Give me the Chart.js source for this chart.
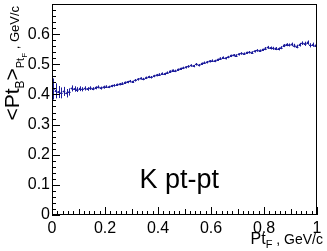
<!DOCTYPE html>
<html>
<head>
<meta charset="utf-8">
<script src="https://cdn.jsdelivr.net/npm/chart.js@4/dist/chart.umd.min.js"></script>
<style>
html, body { margin: 0; padding: 0; background: #fff; }
</style>
</head>
<body>
<canvas id="myChart" width="327" height="251"></canvas>
<script>
// bin centres of Pt_F (100 bins, 0..1)
var ptF = [0.005, 0.015, 0.025, 0.035, 0.045, 0.055, 0.065, 0.075, 0.085, 0.095,
  0.105, 0.115, 0.125, 0.135, 0.145, 0.155, 0.165, 0.175, 0.185, 0.195,
  0.205, 0.215, 0.225, 0.235, 0.245, 0.255, 0.265, 0.275, 0.285, 0.295,
  0.305, 0.315, 0.325, 0.335, 0.345, 0.355, 0.365, 0.375, 0.385, 0.395,
  0.405, 0.415, 0.425, 0.435, 0.445, 0.455, 0.465, 0.475, 0.485, 0.495,
  0.505, 0.515, 0.525, 0.535, 0.545, 0.555, 0.565, 0.575, 0.585, 0.595,
  0.605, 0.615, 0.625, 0.635, 0.645, 0.655, 0.665, 0.675, 0.685, 0.695,
  0.705, 0.715, 0.725, 0.735, 0.745, 0.755, 0.765, 0.775, 0.785, 0.795,
  0.805, 0.815, 0.825, 0.835, 0.845, 0.855, 0.865, 0.875, 0.885, 0.895,
  0.905, 0.915, 0.925, 0.935, 0.945, 0.955, 0.965, 0.975, 0.985, 0.995];

// <Pt_B> per bin
var meanPtB = [0.418, 0.412, 0.408, 0.405, 0.410, 0.404, 0.408, 0.420, 0.418, 0.416,
  0.419, 0.417, 0.420, 0.418, 0.421, 0.419, 0.422, 0.425, 0.421, 0.424,
  0.426, 0.425, 0.428, 0.430, 0.432, 0.434, 0.436, 0.439, 0.441, 0.444,
  0.442, 0.447, 0.450, 0.453, 0.451, 0.455, 0.458, 0.457, 0.461, 0.464,
  0.466, 0.469, 0.468, 0.472, 0.476, 0.479, 0.478, 0.482, 0.485, 0.488,
  0.490, 0.493, 0.496, 0.494, 0.500, 0.497, 0.502, 0.505, 0.507, 0.510,
  0.512, 0.511, 0.515, 0.519, 0.522, 0.520, 0.524, 0.528, 0.530, 0.529,
  0.533, 0.536, 0.535, 0.538, 0.540, 0.539, 0.543, 0.546, 0.545, 0.548,
  0.552, 0.556, 0.554, 0.553, 0.552, 0.551, 0.555, 0.562, 0.565, 0.564,
  0.566, 0.562, 0.559, 0.565, 0.570, 0.568, 0.572, 0.563, 0.565, 0.562];

// errors
var meanPtBErr = [0.035, 0.025, 0.020, 0.018, 0.015, 0.014, 0.012, 0.010, 0.009, 0.008,
  0.008, 0.007, 0.007, 0.006, 0.006, 0.005, 0.005, 0.005, 0.005, 0.005,
  0.004, 0.004, 0.004, 0.004, 0.004, 0.004, 0.004, 0.004, 0.004, 0.004,
  0.004, 0.004, 0.004, 0.004, 0.004, 0.004, 0.004, 0.004, 0.004, 0.004,
  0.004, 0.004, 0.004, 0.004, 0.004, 0.004, 0.004, 0.004, 0.004, 0.004,
  0.004, 0.004, 0.004, 0.004, 0.004, 0.004, 0.004, 0.004, 0.004, 0.004,
  0.004, 0.004, 0.004, 0.004, 0.004, 0.004, 0.004, 0.004, 0.004, 0.004,
  0.004, 0.004, 0.004, 0.004, 0.004, 0.004, 0.004, 0.004, 0.004, 0.004,
  0.005, 0.005, 0.005, 0.005, 0.005, 0.005, 0.005, 0.005, 0.005, 0.005,
  0.006, 0.006, 0.006, 0.006, 0.006, 0.007, 0.007, 0.007, 0.007, 0.008];

var label = 'K pt-pt';
var binHalf = 0.005;
var blue = '#1c1c9c';
var fam = '"Liberation Sans", Arial, sans-serif';

var points = ptF.map(function (x, i) { return { x: x, y: meanPtB[i] }; });

// error bars (vertical + bin width)
var errorBars = {
  id: 'errorBars',
  afterDatasetsDraw: function (chart) {
    var c = chart.ctx, xs = chart.scales.x, ys = chart.scales.y;
    c.save();
    c.strokeStyle = blue;
    c.lineWidth = 1;
    c.beginPath();
    for (var i = 0; i < ptF.length; i++) {
      var px = Math.round(xs.getPixelForValue(ptF[i])) + 0.5;
      var py = Math.round(ys.getPixelForValue(meanPtB[i])) + 0.5;
      c.moveTo(px, ys.getPixelForValue(meanPtB[i] + meanPtBErr[i]));
      c.lineTo(px, ys.getPixelForValue(meanPtB[i] - meanPtBErr[i]));
      c.moveTo(xs.getPixelForValue(ptF[i] - binHalf), py);
      c.lineTo(xs.getPixelForValue(ptF[i] + binHalf), py);
    }
    c.stroke();
    c.restore();
  }
};

// ROOT-like frame, inner ticks, axis titles, label
var decor = {
  id: 'decor',
  afterDraw: function (chart) {
    var c = chart.ctx, a = chart.chartArea, xs = chart.scales.x, ys = chart.scales.y;
    c.save();
    c.strokeStyle = '#000';
    c.lineWidth = 1;
    c.strokeRect(Math.round(a.left) + 0.5, Math.round(a.top) + 0.5,
      Math.round(a.right - a.left) - 1, Math.round(a.bottom - a.top) - 1);
    c.beginPath();
    var k, p, len;
    for (k = 0; k <= 50; k++) {
      p = Math.round(xs.getPixelForValue(k * 0.02)) + 0.5;
      len = (k % 10 === 0) ? 8 : (k % 5 === 0 ? 6 : 4);
      c.moveTo(p, a.bottom);
      c.lineTo(p, a.bottom - len);
    }
    for (k = 0; k <= 35; k++) {
      p = Math.round(ys.getPixelForValue(k * 0.02)) + 0.5;
      len = (k % 5 === 0) ? 8 : 4;
      c.moveTo(a.left, p);
      c.lineTo(a.left + len, p);
    }
    c.stroke();

    c.fillStyle = '#000';
    c.textBaseline = 'alphabetic';
    c.textAlign = 'left';

    // x title: Pt_F , GeV/c  (right aligned)
    var parts = [['Pt', 16, 0], ['F', 11, 4], [' , GeV/c', 14, 0]];
    var w = 0, i;
    for (i = 0; i < parts.length; i++) { c.font = parts[i][1] + 'px ' + fam; w += c.measureText(parts[i][0]).width; }
    var x0 = 323 - w;
    for (i = 0; i < parts.length; i++) {
      c.font = parts[i][1] + 'px ' + fam;
      c.fillText(parts[i][0], x0, 244 + parts[i][2]);
      x0 += c.measureText(parts[i][0]).width;
    }

    // y title: <Pt_B>_{Pt_F} , GeV/c (rotated, right aligned at top)
    var yparts = [['<Pt', 21, 0], ['B', 12, 5], ['>', 21, 0], ['Pt', 11, 5], ['F', 8, 8], [' , GeV/c', 13, 0]];
    w = 0;
    for (i = 0; i < yparts.length; i++) { c.font = yparts[i][1] + 'px ' + fam; w += c.measureText(yparts[i][0]).width; }
    c.translate(19, 6 + w);
    c.rotate(-Math.PI / 2);
    x0 = 0;
    for (i = 0; i < yparts.length; i++) {
      c.font = yparts[i][1] + 'px ' + fam;
      c.fillText(yparts[i][0], x0, yparts[i][2]);
      x0 += c.measureText(yparts[i][0]).width;
    }
    c.restore();

    c.save();
    c.font = '27px ' + fam;
    c.fillStyle = '#000';
    c.textAlign = 'center';
    c.fillText(label, xs.getPixelForValue(0.48), 188);
    c.restore();
  }
};

var ctx = document.getElementById('myChart').getContext('2d');
var chart = new Chart(ctx, {
  type: 'scatter',
  data: {
    datasets: [{
      label: label,
      data: points,
      backgroundColor: blue,
      borderColor: blue,
      pointRadius: 1,
      pointBorderWidth: 0,
      showLine: false
    }]
  },
  options: {
    responsive: false,
    animation: false,
    layout: { padding: { left: 0, right: 10, top: 3, bottom: 0 } },
    plugins: {
      legend: { display: false },
      tooltip: { enabled: false }
    },
    scales: {
      x: {
        type: 'linear',
        min: 0,
        max: 1,
        grid: { drawOnChartArea: false, drawTicks: false },
        border: { display: false },
        ticks: {
          stepSize: 0.2,
          padding: 4,
          maxRotation: 0,
          autoSkip: false,
          color: '#000',
          font: { family: fam, size: 16 },
          callback: function (v) { return String(Number(v.toFixed(1))); }
        },
        afterFit: function (s) { s.height = 36; s.paddingLeft = 0; s.paddingRight = 0; }
      },
      y: {
        min: 0,
        max: 0.7,
        grid: { drawOnChartArea: false, drawTicks: false },
        border: { display: false },
        ticks: {
          stepSize: 0.1,
          padding: 2,
          color: '#000',
          font: { family: fam, size: 16 },
          callback: function (v) { return v > 0.65 ? '' : String(Number(v.toFixed(1))); }
        },
        afterFit: function (s) { s.width = 52; s.paddingTop = 0; s.paddingBottom = 0; }
      }
    }
  },
  plugins: [errorBars, decor]
});
</script>
</body>
</html>
